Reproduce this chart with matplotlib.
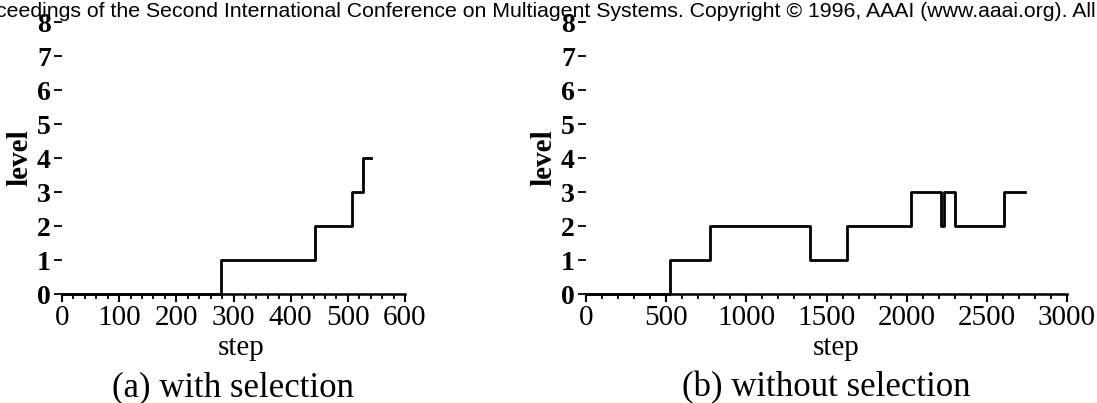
import numpy as np
import matplotlib
matplotlib.use("Agg")
import matplotlib.pyplot as plt
from matplotlib.ticker import MultipleLocator

# step where the level changes, and the level reached at that step
sel_steps = [0, 279, 443, 508, 527, 540]
sel_levels = [0, 1, 2, 3, 4, 4]

nosel_steps = [0, 525, 774, 1400, 1629, 2027, 2213, 2234, 2303, 2610, 2739]
nosel_levels = [0, 1, 2, 1, 2, 3, 2, 3, 2, 3, 3]

level_ticks = [0, 1, 2, 3, 4, 5, 6, 7, 8]
sel_xticks = [0, 100, 200, 300, 400, 500, 600]
nosel_xticks = [0, 500, 1000, 1500, 2000, 2500, 3000]

captions = ["(a) with selection", "(b) without selection"]
header = ("ceedings of the Second International Conference on Multiagent Systems. "
          "Copyright \u00a9 1996, AAAI (www.aaai.org). All")

serif = "Liberation Serif"

fig = plt.figure(figsize=(10.97, 4.03), dpi=100)

W, H = 1097.0, 403.0
ax1 = fig.add_axes([62 / W, 1 - 294 / H, (405 - 62) / W, (294 - 22) / H])
ax2 = fig.add_axes([586 / W, 1 - 294 / H, (1067 - 586) / W, (294 - 22) / H])


def style_axis(ax, xmax, xticks, minor, step_x, level_x):
    ax.set_xlim(0, xmax)
    ax.set_ylim(0, 8)
    for s in ["top", "right", "left"]:
        ax.spines[s].set_visible(False)
    ax.spines["bottom"].set_linewidth(1.8)
    ax.set_xticks(xticks)
    ax.xaxis.set_minor_locator(MultipleLocator(minor))
    ax.set_yticks(level_ticks)
    ax.tick_params(axis="x", which="major", length=6, width=1.5, pad=2,
                   direction="out")
    ax.tick_params(axis="x", which="minor", length=3.5, width=1.3,
                   direction="out")
    ax.tick_params(axis="y", length=6, width=1.3, pad=2, direction="out")
    for lab in ax.get_xticklabels():
        lab.set_fontfamily(serif)
        lab.set_fontsize(21)
    for lab in ax.get_yticklabels():
        lab.set_fontfamily(serif)
        lab.set_fontsize(20)
        lab.set_fontweight("bold")
    ax.set_xlabel("step", fontfamily=serif, fontsize=21)
    ax.xaxis.label.set_va("baseline")
    ax.xaxis.set_label_coords(step_x, (294 - 355) / 272.0)
    ax.set_ylabel("level", fontfamily=serif, fontsize=21, fontweight="bold")
    ax.yaxis.set_label_coords(level_x, 0.5)


style_axis(ax1, 600, sel_xticks, 20, (241 - 62) / 343.0, (33 - 62) / 343.0)
style_axis(ax2, 3000, nosel_xticks, 100, (836 - 586) / 481.0,
           (557 - 586) / 481.0)

ax1.step(sel_steps, sel_levels, where="post", color="black", lw=2.0,
         clip_on=False)
ax2.step(nosel_steps, nosel_levels, where="post", color="black", lw=2.0,
         clip_on=False)

fig.text(233 / W, 1 - 388 / H, captions[0], fontfamily=serif, fontsize=25,
         ha="center", va="center")
fig.text(826 / W, 1 - 388 / H, captions[1], fontfamily=serif, fontsize=25,
         ha="center", va="center")

fig.text(-4 / W, 1 - 17 / H, header, fontfamily="Liberation Sans",
         fontsize=15.3, ha="left", va="baseline")

fig.savefig("out.png", dpi=100)
